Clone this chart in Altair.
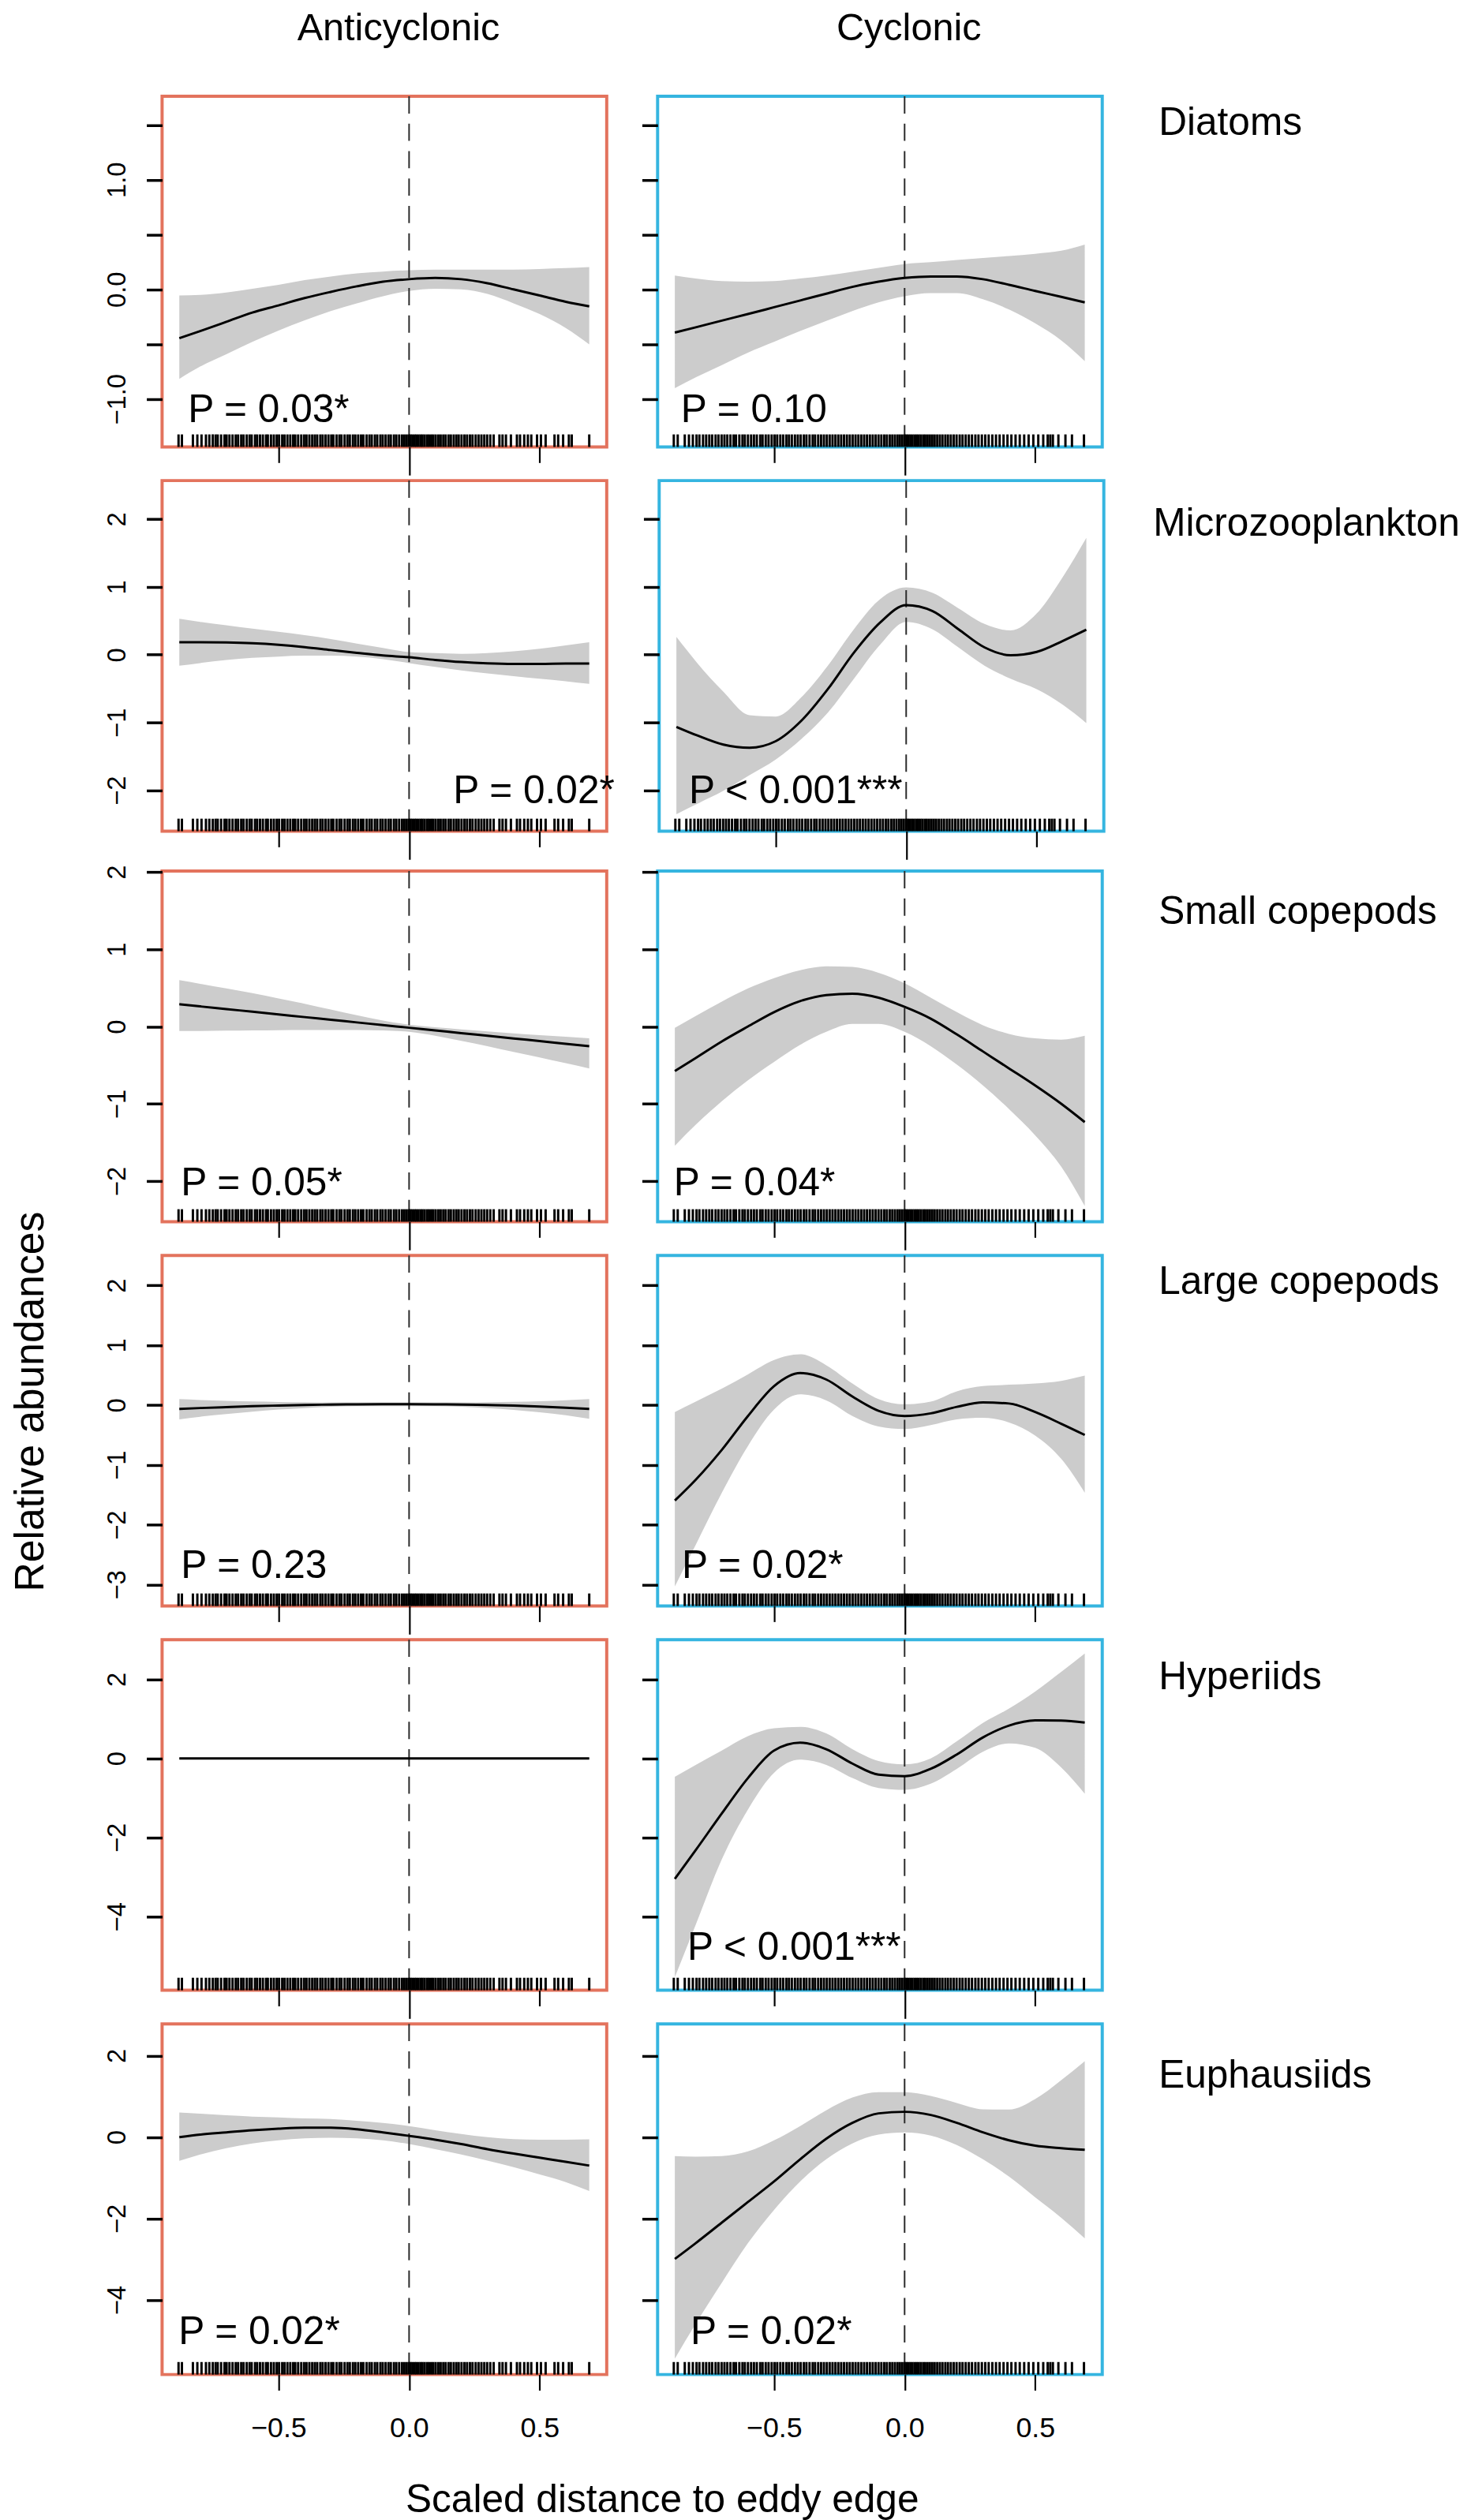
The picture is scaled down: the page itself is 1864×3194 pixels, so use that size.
import altair as alt
import pandas as pd

# ---------------- data ----------------
GRID = [-0.88, -0.8, -0.7, -0.6, -0.5, -0.4, -0.3, -0.2, -0.1, 0.0, 0.1, 0.2, 0.3, 0.4, 0.5, 0.6, 0.69]

groups = ["Diatoms", "Microzooplankton", "Small copepods", "Large copepods", "Hyperiids", "Euphausiids"]
eddy_types = ["Anticyclonic", "Cyclonic"]

# Diatoms
dia_a_fit = [-0.445, -0.380, -0.296, -0.211, -0.146, -0.079, -0.023, 0.028, 0.070, 0.093, 0.104, 0.093, 0.056, 0.0, -0.056, -0.113, -0.155]
dia_a_lo = [-0.817, -0.704, -0.592, -0.479, -0.375, -0.282, -0.197, -0.127, -0.062, -0.014, 0.006, 0.0, -0.042, -0.127, -0.225, -0.352, -0.501]
dia_a_hi = [-0.056, -0.051, -0.028, 0.006, 0.042, 0.085, 0.118, 0.146, 0.163, 0.175, 0.180, 0.180, 0.180, 0.180, 0.186, 0.194, 0.203]
dia_c_fit = [-0.394, -0.346, -0.285, -0.225, -0.163, -0.101, -0.039, 0.023, 0.070, 0.104, 0.118, 0.118, 0.093, 0.042, -0.014, -0.068, -0.118]
dia_c_lo = [-0.901, -0.803, -0.690, -0.577, -0.479, -0.380, -0.287, -0.197, -0.118, -0.062, -0.034, -0.034, -0.090, -0.183, -0.310, -0.465, -0.654]
dia_c_hi = [0.127, 0.099, 0.076, 0.070, 0.076, 0.099, 0.127, 0.161, 0.197, 0.231, 0.248, 0.268, 0.287, 0.304, 0.324, 0.352, 0.408]

# Microzooplankton
mic_a_fit = [0.185, 0.185, 0.181, 0.169, 0.146, 0.112, 0.069, 0.027, -0.012, -0.038, -0.077, -0.108, -0.127, -0.135, -0.135, -0.131, -0.131]
mic_a_lo = [-0.162, -0.123, -0.077, -0.046, -0.027, -0.015, -0.015, -0.027, -0.065, -0.123, -0.181, -0.231, -0.277, -0.315, -0.354, -0.392, -0.431]
mic_a_hi = [0.531, 0.485, 0.435, 0.385, 0.338, 0.288, 0.231, 0.165, 0.100, 0.038, 0.023, 0.012, 0.023, 0.050, 0.088, 0.138, 0.185]
mic_c_fit = [-1.065, -1.192, -1.327, -1.373, -1.277, -0.969, -0.508, 0.031, 0.473, 0.731, 0.646, 0.377, 0.108, -0.008, 0.042, 0.204, 0.369]
mic_c_lo = [-2.354, -2.200, -2.008, -1.777, -1.546, -1.238, -0.854, -0.354, 0.146, 0.485, 0.377, 0.108, -0.162, -0.354, -0.508, -0.738, -1.008]
mic_c_hi = [0.262, -0.123, -0.546, -0.892, -0.912, -0.623, -0.162, 0.377, 0.819, 0.992, 0.915, 0.685, 0.454, 0.358, 0.608, 1.146, 1.723]

# Small copepods
sma_a_fit = [0.288, 0.260, 0.226, 0.191, 0.157, 0.122, 0.088, 0.053, 0.019, -0.016, -0.050, -0.085, -0.119, -0.154, -0.188, -0.223, -0.254]
sma_a_lo = [-0.058, -0.058, -0.054, -0.051, -0.047, -0.044, -0.044, -0.044, -0.051, -0.068, -0.119, -0.186, -0.254, -0.329, -0.400, -0.475, -0.542]
sma_a_hi = [0.600, 0.553, 0.492, 0.431, 0.363, 0.295, 0.220, 0.146, 0.078, 0.024, -0.010, -0.037, -0.064, -0.088, -0.112, -0.132, -0.153]
sma_c_fit = [-0.576, -0.407, -0.193, 0.000, 0.186, 0.329, 0.407, 0.424, 0.373, 0.254, 0.102, -0.102, -0.322, -0.542, -0.763, -1.000, -1.237]
sma_c_lo = [-1.542, -1.271, -0.966, -0.695, -0.458, -0.237, -0.068, 0.034, 0.034, -0.068, -0.254, -0.492, -0.763, -1.068, -1.407, -1.814, -2.322]
sma_c_hi = [-0.017, 0.136, 0.322, 0.492, 0.627, 0.729, 0.780, 0.770, 0.695, 0.559, 0.373, 0.186, 0.017, -0.095, -0.153, -0.169, -0.119]

# Large copepods
lar_a_fit = [-0.065, -0.050, -0.035, -0.020, -0.008, 0.002, 0.008, 0.012, 0.013, 0.013, 0.012, 0.008, 0.000, -0.010, -0.025, -0.045, -0.065]
lar_a_lo = [-0.239, -0.195, -0.150, -0.110, -0.075, -0.050, -0.030, -0.020, -0.018, -0.018, -0.020, -0.030, -0.050, -0.080, -0.120, -0.170, -0.230]
lar_a_hi = [0.100, 0.085, 0.070, 0.060, 0.052, 0.048, 0.045, 0.044, 0.044, 0.044, 0.044, 0.045, 0.048, 0.055, 0.065, 0.080, 0.100]
lar_c_fit = [-1.596, -1.248, -0.748, -0.183, 0.317, 0.535, 0.426, 0.143, -0.096, -0.183, -0.139, -0.030, 0.043, 0.026, -0.117, -0.313, -0.500]
lar_c_lo = [-3.030, -2.335, -1.465, -0.683, -0.074, 0.178, 0.078, -0.183, -0.357, -0.400, -0.335, -0.239, -0.213, -0.291, -0.509, -0.900, -1.465]
lar_c_hi = [-0.117, 0.057, 0.274, 0.513, 0.752, 0.848, 0.665, 0.361, 0.100, 0.013, 0.057, 0.230, 0.317, 0.339, 0.361, 0.404, 0.491]

# Hyperiids
hyp_a_fit = [0.0, 0.0, 0.0, 0.0, 0.0, 0.0, 0.0, 0.0, 0.0, 0.0, 0.0, 0.0, 0.0, 0.0, 0.0, 0.0, 0.0]
hyp_a_lo = [-0.02, -0.02, -0.02, -0.02, -0.02, -0.02, -0.02, -0.02, -0.02, -0.02, -0.02, -0.02, -0.02, -0.02, -0.02, -0.02, -0.02]
hyp_a_hi = [0.02, 0.02, 0.02, 0.02, 0.02, 0.02, 0.02, 0.02, 0.02, 0.02, 0.02, 0.02, 0.02, 0.02, 0.02, 0.02, 0.02]
hyp_c_fit = [-3.046, -2.318, -1.391, -0.497, 0.199, 0.397, 0.232, -0.132, -0.411, -0.450, -0.265, 0.099, 0.530, 0.828, 0.960, 0.954, 0.907]
hyp_c_lo = [-5.530, -4.205, -2.550, -1.291, -0.364, -0.033, -0.166, -0.497, -0.748, -0.795, -0.642, -0.265, 0.166, 0.377, 0.265, -0.232, -0.894]
hyp_c_hi = [-0.464, -0.166, 0.199, 0.563, 0.762, 0.795, 0.629, 0.232, -0.066, -0.152, 0.000, 0.430, 0.894, 1.258, 1.689, 2.185, 2.649]

# Euphausiids
eup_a_fit = [0.000, 0.062, 0.117, 0.171, 0.210, 0.233, 0.233, 0.194, 0.117, 0.031, -0.062, -0.171, -0.295, -0.404, -0.505, -0.606, -0.699]
eup_a_lo = [-0.583, -0.427, -0.272, -0.155, -0.078, -0.031, -0.016, -0.031, -0.078, -0.171, -0.295, -0.427, -0.575, -0.738, -0.917, -1.103, -1.321]
eup_a_hi = [0.606, 0.575, 0.536, 0.505, 0.482, 0.458, 0.443, 0.404, 0.350, 0.272, 0.171, 0.078, 0.000, -0.047, -0.062, -0.062, -0.054]
eup_c_fit = [-2.991, -2.603, -2.098, -1.593, -1.088, -0.544, -0.039, 0.350, 0.583, 0.622, 0.544, 0.350, 0.117, -0.078, -0.210, -0.272, -0.311]
eup_c_lo = [-5.439, -4.584, -3.574, -2.603, -1.787, -1.088, -0.544, -0.155, 0.062, 0.117, 0.039, -0.194, -0.544, -0.971, -1.476, -1.981, -2.486]
eup_c_hi = [-0.466, -0.482, -0.466, -0.350, -0.078, 0.272, 0.660, 0.971, 1.103, 1.103, 1.010, 0.839, 0.684, 0.676, 0.933, 1.399, 1.865]

# rug (sampled station positions), anticyclonic and cyclonic
rug_a = [-0.883, -0.870, -0.828, -0.811, -0.795, -0.778, -0.765, -0.752, -0.741, -0.733, -0.720, -0.707,
         -0.699, -0.688, -0.676, -0.664, -0.655, -0.643, -0.634, -0.622, -0.611, -0.603, -0.590, -0.582,
         -0.571, -0.560, -0.548, -0.541, -0.529, -0.518, -0.507, -0.498, -0.486, -0.477, -0.466, -0.455,
         -0.444, -0.436, -0.425, -0.413, -0.402, -0.393, -0.382, -0.371, -0.361, -0.352, -0.340, -0.331,
         -0.320, -0.309, -0.298, -0.290, -0.278, -0.267, -0.259, -0.247, -0.236, -0.227, -0.215, -0.206,
         -0.195, -0.184, -0.175, -0.163, -0.152, -0.143, -0.131, -0.122, -0.110, -0.101, -0.090, -0.079,
         -0.070, -0.058, -0.049, -0.038, -0.027, -0.018, -0.009, 0.0, 0.006, 0.013, 0.021, 0.028, 0.036,
         0.044, 0.051, 0.059, 0.068, 0.076, 0.085, 0.093, 0.102, 0.112, 0.121, 0.131, 0.140, 0.151, 0.160,
         0.171, 0.181, 0.190, 0.201, 0.212, 0.222, 0.233, 0.243, 0.255, 0.266, 0.277, 0.288, 0.299, 0.311,
         0.324, 0.346, 0.358, 0.371, 0.390, 0.413, 0.425, 0.441, 0.455, 0.468, 0.490, 0.505, 0.523, 0.557,
         0.571, 0.590, 0.612, 0.623, 0.690]
rug_c = [-0.884, -0.869, -0.842, -0.826, -0.811, -0.797, -0.786, -0.772, -0.760, -0.748, -0.737, -0.724,
         -0.713, -0.701, -0.690, -0.679, -0.667, -0.655, -0.646, -0.633, -0.621, -0.612, -0.600, -0.588,
         -0.577, -0.566, -0.553, -0.544, -0.532, -0.521, -0.509, -0.498, -0.488, -0.476, -0.465, -0.453,
         -0.443, -0.432, -0.420, -0.409, -0.398, -0.386, -0.376, -0.364, -0.352, -0.343, -0.331, -0.320,
         -0.309, -0.298, -0.287, -0.276, -0.265, -0.254, -0.243, -0.232, -0.221, -0.210, -0.199, -0.188,
         -0.177, -0.166, -0.155, -0.144, -0.133, -0.122, -0.111, -0.100, -0.089, -0.078, -0.068, -0.057,
         -0.047, -0.037, -0.027, -0.018, -0.009, 0.0, 0.007, 0.014, 0.022, 0.030, 0.038, 0.046, 0.054,
         0.062, 0.071, 0.079, 0.088, 0.097, 0.106, 0.115, 0.125, 0.135, 0.145, 0.156, 0.166, 0.177, 0.188,
         0.199, 0.211, 0.222, 0.234, 0.246, 0.258, 0.271, 0.283, 0.296, 0.309, 0.322, 0.336, 0.350, 0.364,
         0.379, 0.394, 0.409, 0.425, 0.441, 0.458, 0.475, 0.493, 0.512, 0.531, 0.548, 0.558, 0.568, 0.589,
         0.616, 0.641, 0.687]

# significance annotations
p_text = [["P = 0.03*", "P = 0.10"], ["P = 0.02*", "P < 0.001***"], ["P = 0.05*", "P = 0.04*"],
          ["P = 0.23", "P = 0.02*"], ["", "P < 0.001***"], ["P = 0.02*", "P = 0.02*"]]
p_x = [[-0.847, -0.857], [0.787, -0.832], [-0.874, -0.884], [-0.874, -0.853], [-0.85, -0.832], [-0.883, -0.820]]
p_y = [[-1.211, -1.211], [-2.195, -2.195], [-2.184, -2.184], [-2.894, -2.894], [-5.10, -5.10], [-5.087, -5.087]]
p_align = [["left", "left"], ["right", "left"], ["left", "left"], ["left", "left"], ["left", "left"], ["left", "left"]]

# y scales per row
y_domains = [[-1.437, 1.761], [-2.604, 2.569], [-2.525, 2.010], [-3.357, 2.500], [-5.861, 3.000], [-5.830, 2.780]]
y_ticks = [[-1.0, -0.5, 0.0, 0.5, 1.0, 1.5], [-2, -1, 0, 1, 2], [-2, -1, 0, 1, 2], [-3, -2, -1, 0, 1, 2],
           [-4, -2, 0, 2], [-4, -2, 0, 2]]
x_ticks = [-0.5, 0.0, 0.5]
x_domain = [-0.946, 0.757]

curves = {
    (0, 0): (dia_a_fit, dia_a_lo, dia_a_hi), (0, 1): (dia_c_fit, dia_c_lo, dia_c_hi),
    (1, 0): (mic_a_fit, mic_a_lo, mic_a_hi), (1, 1): (mic_c_fit, mic_c_lo, mic_c_hi),
    (2, 0): (sma_a_fit, sma_a_lo, sma_a_hi), (2, 1): (sma_c_fit, sma_c_lo, sma_c_hi),
    (3, 0): (lar_a_fit, lar_a_lo, lar_a_hi), (3, 1): (lar_c_fit, lar_c_lo, lar_c_hi),
    (4, 0): (hyp_a_fit, hyp_a_lo, hyp_a_hi), (4, 1): (hyp_c_fit, hyp_c_lo, hyp_c_hi),
    (5, 0): (eup_a_fit, eup_a_lo, eup_a_hi), (5, 1): (eup_c_fit, eup_c_lo, eup_c_hi),
}
rugs = [rug_a, rug_c]

# ---------------- styling ----------------
FONT = "Liberation Sans"
BORDER = ["#E3735D", "#35B5E0"]
W, H = 568, 448
LAB_Y = [49, 70, 67, 49, 63, 81]          # baseline of row labels below panel top
ROW_SPACING = [39, 30, 39, 39, 39, 39]    # row 2 text overhangs the left panel
GAP_TICK = 36


def panel(r, c):
    fit, lo, hi = curves[(r, c)]
    bottom = r == 5
    df = pd.DataFrame({"x": GRID, "fit": fit, "lo": lo, "hi": hi})
    tick_size = 20 if bottom else {"condition": {"test": "datum.value === 0", "value": GAP_TICK}, "value": 20}
    xaxis = alt.Axis(values=x_ticks, title=None, domain=False, grid=False, labels=bottom,
                     format=".1f", labelFont=FONT, labelFontSize=36, labelColor="black",
                     labelPadding=32, tickColor="black", tickWidth=2.2, tickSize=tick_size)
    yaxis_kw = dict(values=y_ticks[r], title=None, domain=False, grid=False, labels=(c == 0),
                    tickColor="black", tickWidth=3.5, tickSize=20)
    if c == 0:
        yaxis_kw.update(labelFont=FONT, labelFontSize=33, labelColor="black", labelAngle=-90,
                        labelAlign="center", labelBaseline="alphabetic", labelPadding=27,
                        format=".1f" if r == 0 else "d")
        if r == 0:
            yaxis_kw["labelExpr"] = "abs(datum.value - round(datum.value)) < 0.001 ? datum.label : ''"
    yaxis = alt.Axis(**yaxis_kw)
    xs = alt.Scale(domain=x_domain, nice=False, zero=False)
    ys = alt.Scale(domain=y_domains[r], nice=False, zero=False)
    X = alt.X("x:Q", scale=xs, axis=xaxis)

    band = alt.Chart(df).mark_area(color="#CCCCCC", interpolate="monotone").encode(
        x=X, y=alt.Y("lo:Q", scale=ys, axis=yaxis), y2="hi:Q")
    zero = alt.Chart(pd.DataFrame({"x": [0.0]})).mark_rule(
        color="#2b2b2b", strokeWidth=2, strokeDash=[22, 13]).encode(x=X)
    line = alt.Chart(df).mark_line(color="black", strokeWidth=3, interpolate="monotone").encode(
        x=X, y=alt.Y("fit:Q", scale=ys, axis=yaxis))
    rug = alt.Chart(pd.DataFrame({"x": rugs[c]})).mark_tick(
        color="black", thickness=3, size=16, opacity=1, orient="vertical").encode(
        x=X, y=alt.value(H - 8))
    layers = [band, zero, line, rug]
    if p_text[r][c]:
        tdf = pd.DataFrame({"x": [p_x[r][c]], "y": [p_y[r][c]], "t": [p_text[r][c]]})
        txt = alt.Chart(tdf).mark_text(align=p_align[r][c], baseline="alphabetic", fontSize=50,
                                       font=FONT, color="black").encode(
            x=X, y=alt.Y("y:Q", scale=ys, axis=yaxis), text="t:N")
        layers.append(txt)
    return alt.layer(*layers).properties(
        width=W, height=H, view=alt.ViewBackground(stroke=BORDER[c], strokeWidth=4))


def row_label(r):
    return alt.Chart(pd.DataFrame({"t": [groups[r]]})).mark_text(
        align="left", baseline="alphabetic", fontSize=50, font=FONT, color="black").encode(
        x=alt.value(30), y=alt.value(LAB_Y[r]), text="t:N").properties(width=420, height=H)


# column headers
def header_text(name, xpos):
    return alt.Chart(pd.DataFrame({"t": [name]})).mark_text(
        align="center", baseline="top", fontSize=49, font=FONT, color="black").encode(
        x=alt.value(xpos), y=alt.value(0), text="t:N")


header = alt.layer(header_text(eddy_types[0], 302), header_text(eddy_types[1], 954)).properties(
    width=1190, height=107)

rows = [alt.hconcat(panel(r, 0), panel(r, 1), row_label(r), spacing=ROW_SPACING[r]) for r in range(6)]

x_title = alt.Chart(pd.DataFrame({"t": ["Scaled distance to eddy edge"]})).mark_text(
    align="center", baseline="alphabetic", fontSize=50, font=FONT, color="black").encode(
    x=alt.value(639), y=alt.value(86), text="t:N").properties(width=1190, height=100)

body = alt.vconcat(header, *rows, x_title, spacing=0)

y_title = alt.Chart(pd.DataFrame({"t": ["Relative abundances"]})).mark_text(
    angle=270, align="center", baseline="alphabetic", fontSize=52, font=FONT, color="black").encode(
    x=alt.value(46), y=alt.value(1779), text="t:N").properties(width=121, height=3000)

chart = alt.hconcat(y_title, body, spacing=0).properties(
    padding={"left": 0, "top": -10, "right": 0, "bottom": 0}).configure_view(stroke="transparent")

chart.save("out.html", embed_options={"renderer": "svg", "actions": False})
